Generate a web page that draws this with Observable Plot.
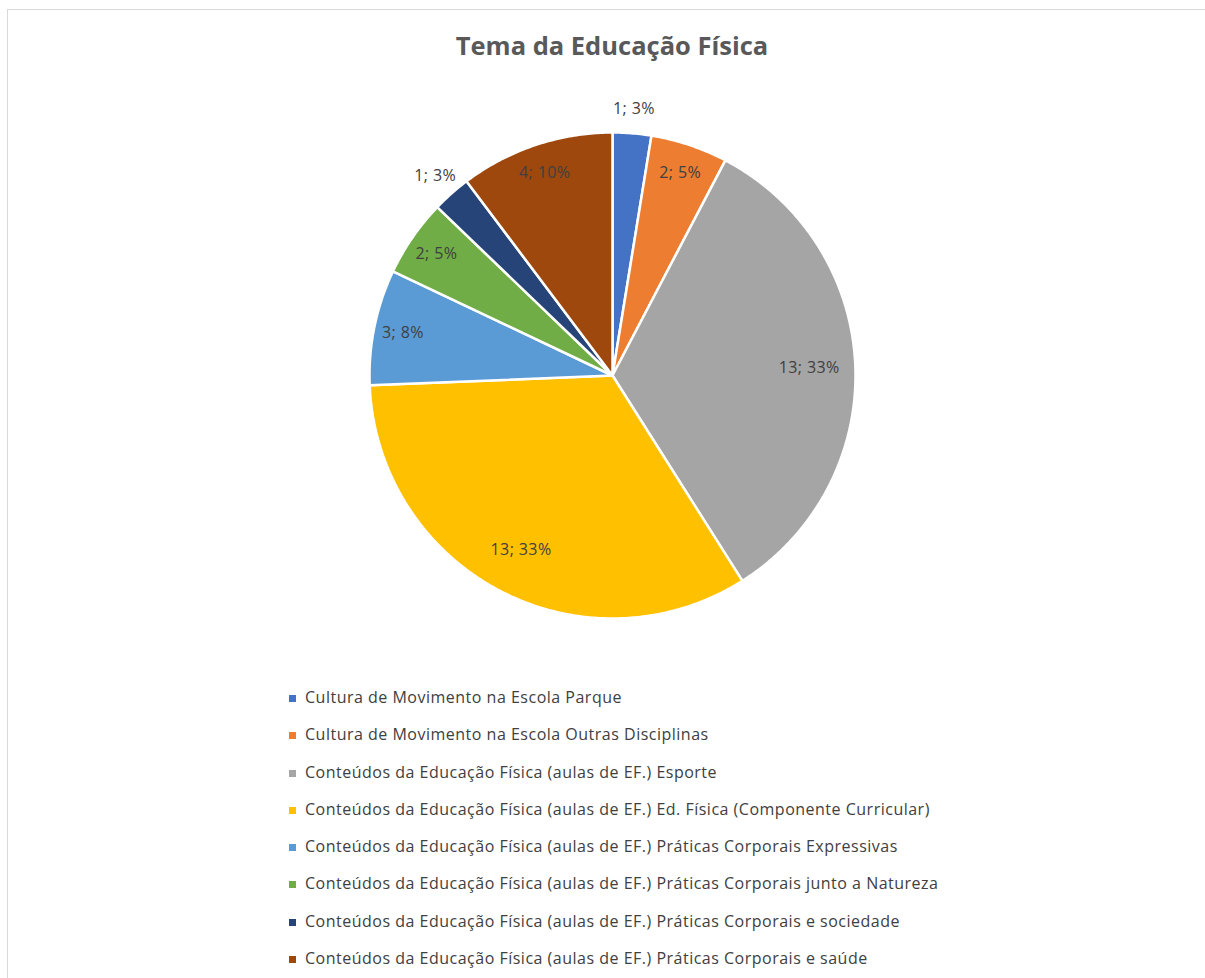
<!DOCTYPE html>
<html>
<head>
<meta charset="utf-8">
<script src="https://cdn.jsdelivr.net/npm/d3@7"></script>
<script src="https://cdn.jsdelivr.net/npm/@observablehq/plot@0.6"></script>
<style>
  html, body { margin: 0; padding: 0; background: #fff; }
  body { width: 1205px; height: 978px; position: relative; overflow: hidden; font-family: "Open Sans", sans-serif; }
  #frame { position: absolute; left: 7px; top: 9px; width: 1300px; height: 1100px; border: 1px solid #d9d9d9; box-sizing: border-box; }
  #title { position: absolute; left: 0; width: 1224px; top: 28px; text-align: center; font-size: 25.5px; font-weight: bold; color: #595959; }
  #chart { position: absolute; left: 0; top: 0; }
  #legend { position: absolute; left: 289px; top: 687px; }
  .item { height: 37.3px; display: flex; align-items: flex-start; font-size: 16px; letter-spacing: 0.5px; color: #404040; line-height: 21px; }
  .sw { width: 7px; height: 7px; margin-top: 8px; margin-right: 9px; flex: none; }
</style>
</head>
<body>
<div id="frame"></div>
<div id="title">Tema da Educação Física</div>
<div id="chart"></div>
<div id="legend"></div>
<script>
const categories = [
  "Cultura de Movimento na Escola Parque",
  "Cultura de Movimento na Escola Outras Disciplinas",
  "Conteúdos da Educação Física (aulas de EF.) Esporte",
  "Conteúdos da Educação Física (aulas de EF.) Ed. Física (Componente Curricular)",
  "Conteúdos da Educação Física (aulas de EF.) Práticas Corporais Expressivas",
  "Conteúdos da Educação Física (aulas de EF.) Práticas Corporais junto a Natureza",
  "Conteúdos da Educação Física (aulas de EF.) Práticas Corporais e sociedade",
  "Conteúdos da Educação Física (aulas de EF.) Práticas Corporais e saúde"
];
const values = [1, 2, 13, 13, 3, 2, 1, 4];
const colors = ["#4472C4", "#ED7D31", "#A5A5A5", "#FFC000", "#5B9BD5", "#70AD47", "#264478", "#9E480E"];

const total = d3.sum(values);
const arcs = d3.pie().sort(null).value(d => d)(values);

// polygon vertices for each slice (computed from the pie layout)
const pts = [];
arcs.forEach((a, i) => {
  const cat = categories[i];
  pts.push({cat, x: 0, y: 0});
  const n = Math.max(2, Math.ceil((a.endAngle - a.startAngle) / 0.01));
  for (let k = 0; k <= n; k++) {
    const t = a.startAngle + (a.endAngle - a.startAngle) * k / n;
    pts.push({cat, x: Math.sin(t), y: Math.cos(t)});
  }
});

// label positions from mid-angles
const labels = arcs.map((a, i) => {
  const mid = (a.startAngle + a.endAngle) / 2;
  const share = values[i] / total;
  const r = share < 0.04 ? 1.1 : share > 0.2 ? 0.81 : 0.88;
  return {
    x: r * Math.sin(mid), y: r * Math.cos(mid),
    text: `${values[i]}; ${Math.round(share * 100)}%`
  };
});

const R = 243, cx = 612, cy = 375;
const plot = Plot.plot({
  width: 1205,
  height: 680,
  margin: 0,
  x: {domain: [-1, 1], range: [cx - R, cx + R], axis: null},
  y: {domain: [-1, 1], range: [cy + R, cy - R], axis: null},
  color: {domain: categories, range: colors},
  marks: [
    Plot.line(pts, {x: "x", y: "y", z: "cat", fill: "cat", stroke: "white", strokeWidth: 2.5, curve: "linear-closed", strokeLinejoin: "round"}),
    Plot.text(labels, {x: "x", y: "y", text: "text", fill: "#404040", fontSize: 16, fontFamily: "Open Sans"})
  ]
});
plot.querySelectorAll("text").forEach(t => t.style.letterSpacing = "0.4px");
document.getElementById("chart").appendChild(plot);

const legend = document.getElementById("legend");
categories.forEach((c, i) => {
  const row = document.createElement("div");
  row.className = "item";
  const sw = document.createElement("span");
  sw.className = "sw";
  sw.style.background = colors[i];
  const tx = document.createElement("span");
  tx.textContent = c;
  row.appendChild(sw);
  row.appendChild(tx);
  legend.appendChild(row);
});
</script>
</body>
</html>
